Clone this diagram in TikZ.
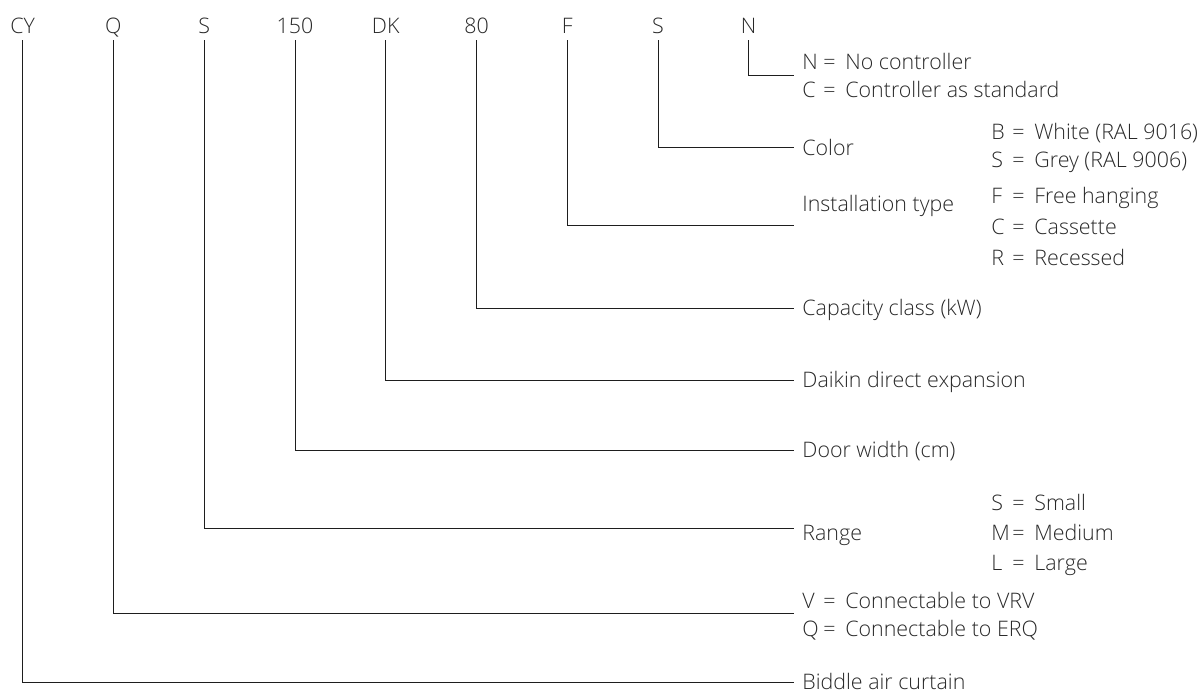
\documentclass[tikz,border=0pt]{standalone}
\usepackage{fontspec}
\setmainfont{Open Sans}[UprightFont=* Light]
\definecolor{keyGray}{RGB}{40, 40, 40}
\definecolor{wireGray}{RGB}{30, 30, 30}
\newcommand{\kv}[2]{\makebox[10.5pt][l]{#1}\makebox[11pt][l]{=}#2}

\begin{document}
\begin{tikzpicture}[x=0.5pt, y=-0.5pt,
  code/.style={anchor=base, inner sep=0pt, outer sep=3.5pt, text depth=0pt,
               font=\fontsize{10.7}{14}\selectfont, text=keyGray},
  desc/.style={anchor=base west, inner sep=0pt,
               font=\fontsize{10.7}{14}\selectfont, text=keyGray},
  link/.style={wireGray, line width=0.5pt},
]
  \useasboundingbox (0,0) rectangle (1200,693);

  % type code
  \node[code] (cy) at (22.7,33) {CY};
  \node[code] (q) at (113.4,33) {Q};
  \node[code] (rng) at (204.2,33) {S};
  \node[code] (w150) at (295,33) {150};
  \node[code] (dk) at (385.7,33) {DK};
  \node[code] (c80) at (476.5,33) {80};
  \node[code] (f) at (567.2,33) {F};
  \node[code] (s) at (658,33) {S};
  \node[code] (n) at (748.7,33) {N};

  % N: controller
  \coordinate (nEnd) at (794,75);
  \draw[link] (n.south) |- (nEnd);
  \node[desc] (nNo) at (802,69) {\kv{N}{No controller}};
  \node[desc] (nCtl) at (802,97) {\kv{C}{Controller as standard}};

  % S: color
  \coordinate (sEnd) at (794,147);
  \draw[link] (s.south) |- (sEnd);
  \node[desc] (col) at (802,155.5) {Color};
  \node[desc] (colB) at (991,139.5) {\kv{B}{White (RAL 9016)}};
  \node[desc] (colS) at (991,167.5) {\kv{S}{Grey (RAL 9006)}};

  % F: installation type
  \coordinate (fEnd) at (794,225);
  \draw[link] (f.south) |- (fEnd);
  \node[desc] (inst) at (802,211.5) {Installation type};
  \node[desc] (instF) at (991,203.5) {\kv{F}{Free hanging}};
  \node[desc] (instC) at (991,234.5) {\kv{C}{Cassette}};
  \node[desc] (instR) at (991,265.5) {\kv{R}{Recessed}};

  % 80: capacity class
  \coordinate (c80End) at (794,308);
  \draw[link] (c80.south) |- (c80End);
  \node[desc] (cap) at (802,315) {Capacity class (kW)};

  % DK: direct expansion
  \coordinate (dkEnd) at (794,380);
  \draw[link] (dk.south) |- (dkEnd);
  \node[desc] (dx) at (802,387) {Daikin direct expansion};

  % 150: door width
  \coordinate (w150End) at (794,450);
  \draw[link] (w150.south) |- (w150End);
  \node[desc] (door) at (802,457) {Door width (cm)};

  % S: range
  \coordinate (rngEnd) at (794,528);
  \draw[link] (rng.south) |- (rngEnd);
  \node[desc] (range) at (802,540) {Range};
  \node[desc] (rangeS) at (991,510.5) {\kv{S}{Small}};
  \node[desc] (rangeM) at (991,540) {\kv{M}{Medium}};
  \node[desc] (rangeL) at (991,570) {\kv{L}{Large}};

  % Q: connectable
  \coordinate (qEnd) at (794,613);
  \draw[link] (q.south) |- (qEnd);
  \node[desc] (qV) at (802,608) {\kv{V}{Connectable to VRV}};
  \node[desc] (qQ) at (802,636) {\kv{Q}{Connectable to ERQ}};

  % CY: product
  \coordinate (cyEnd) at (794,682.5);
  \draw[link] (cy.south) |- (cyEnd);
  \node[desc] (prod) at (802,689) {Biddle air curtain};
\end{tikzpicture}
\end{document}
